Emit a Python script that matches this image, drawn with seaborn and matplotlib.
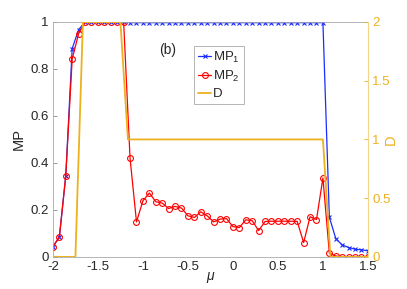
import matplotlib
matplotlib.use("Agg")
import matplotlib.pyplot as plt
import seaborn as sns
import numpy as np
import pandas as pd

sns.set_style("white")
plt.rcParams['font.family'] = ['Liberation Sans', 'DejaVu Sans']
plt.rcParams['mathtext.fontset'] = 'custom'
plt.rcParams['mathtext.rm'] = 'Liberation Sans'
plt.rcParams['mathtext.it'] = 'Liberation Sans:italic'

# mu grid for MP curves (50 points)
mu = np.linspace(-2, 1.5, 50)

mp1 = [0.044, 0.084, 0.345, 0.887, 0.967, 1.0, 1.0, 1.0, 1.0, 1.0,
       1.0, 1.0, 0.997, 0.997, 0.997, 0.997, 0.997, 0.997, 0.997, 0.997,
       0.997, 0.997, 0.997, 0.997, 0.997, 0.997, 0.997, 0.997, 0.997, 0.997,
       0.997, 0.997, 0.997, 0.997, 0.997, 0.997, 0.997, 0.997, 0.997, 0.997,
       0.997, 0.997, 0.997, 0.169, 0.078, 0.051, 0.040, 0.033, 0.030, 0.026]

mp2 = [0.044, 0.084, 0.345, 0.843, 0.95, 1.0, 1.0, 1.0, 1.0, 1.0,
       1.0, 1.0, 0.42, 0.149, 0.239, 0.272, 0.235, 0.229, 0.206, 0.215,
       0.208, 0.175, 0.168, 0.192, 0.175, 0.149, 0.161, 0.163, 0.129, 0.125,
       0.158, 0.154, 0.112, 0.151, 0.152, 0.152, 0.152, 0.152, 0.151, 0.061,
       0.171, 0.159, 0.336, 0.016, 0.004, 0.0, 0.0, 0.0, 0.0, 0.0]

# mu grid for D (43 points)
mu_d = np.linspace(-2, 1.5, 43)
d_vals = [0, 0, 0, 0, 2, 2, 2, 2, 2, 2] + [1] * 27 + [0] * 6

blue = '#1a2cff'
red = '#ff0000'
orange = '#edb120'

df = pd.DataFrame({'mu': mu, 'MP1': mp1, 'MP2': mp2})
dfd = pd.DataFrame({'mu': mu_d, 'D': d_vals})

fig = plt.figure(figsize=(4.07, 2.89), dpi=100)
ax = fig.add_axes([0.130, 0.111, 0.774, 0.813])

sns.lineplot(data=df, x='mu', y='MP1', ax=ax, color=blue, marker='x',
             markersize=3.5, markeredgecolor=blue, markeredgewidth=0.8,
             linewidth=0.9, label='$\\mathregular{MP_1}$')
sns.lineplot(data=df, x='mu', y='MP2', ax=ax, color=red, marker='o',
             markersize=4.2, markerfacecolor='none', markeredgecolor=red,
             markeredgewidth=0.8, linewidth=0.9, label='$\\mathregular{MP_2}$')

ax2 = ax.twinx()
sns.lineplot(data=dfd, x='mu', y='D', ax=ax2, color=orange, linewidth=1.3, label='D')

ax.set_xlim(-2, 1.5)
ax.set_ylim(0, 1)
ax2.set_ylim(0, 2)
ax.set_xticks(np.arange(-2, 1.51, 0.5))
ax.set_xticklabels(['-2', '-1.5', '-1', '-0.5', '0', '0.5', '1', '1.5'])
ax.set_yticks(np.arange(0, 1.01, 0.2))
ax.set_yticklabels(['0', '0.2', '0.4', '0.6', '0.8', '1'])
ax2.set_yticks([0, 0.5, 1, 1.5, 2])
ax2.set_yticklabels(['0', '0.5', '1', '1.5', '2'])

ax.tick_params(axis='both', direction='in', length=3, width=0.6, color='#888888',
               labelsize=9.5, pad=3)
ax2.tick_params(axis='y', direction='in', length=3, width=0.6, colors=orange,
                labelsize=9.5, pad=3)

for s in ['left', 'top', 'bottom']:
    ax.spines[s].set_color('#aaaaaa')
    ax.spines[s].set_linewidth(0.6)
    ax2.spines[s].set_visible(False)
ax.spines['right'].set_visible(False)
ax2.spines['right'].set_color('#f3d58a')
ax2.spines['right'].set_linewidth(0.8)

ax.set_xlabel('$\\mu$', fontsize=10, labelpad=-2)
ax.set_ylabel('MP', fontsize=10.5)
ax.yaxis.set_label_coords(-0.085, 0.5)
ax2.set_ylabel('D', fontsize=10.5, color=orange, rotation=90)
ax2.yaxis.set_label_coords(1.05, 0.5)

ax.text(-0.82, 0.865, '(b)', fontsize=10)

h1, l1 = ax.get_legend_handles_labels()
h2, l2 = ax2.get_legend_handles_labels()
ax.get_legend().remove()
ax2.get_legend().remove()
leg = ax2.legend(h1 + h2, l1 + l2, loc='upper left', bbox_to_anchor=(0.449, 0.898),
                 fontsize=9.5, handlelength=0.95, handletextpad=0.15, borderpad=0.3,
                 labelspacing=0.3, fancybox=False, framealpha=1, edgecolor='#aaaaaa',
                 borderaxespad=0)
leg.get_frame().set_linewidth(0.6)

plt.savefig('out.png', dpi=100)
